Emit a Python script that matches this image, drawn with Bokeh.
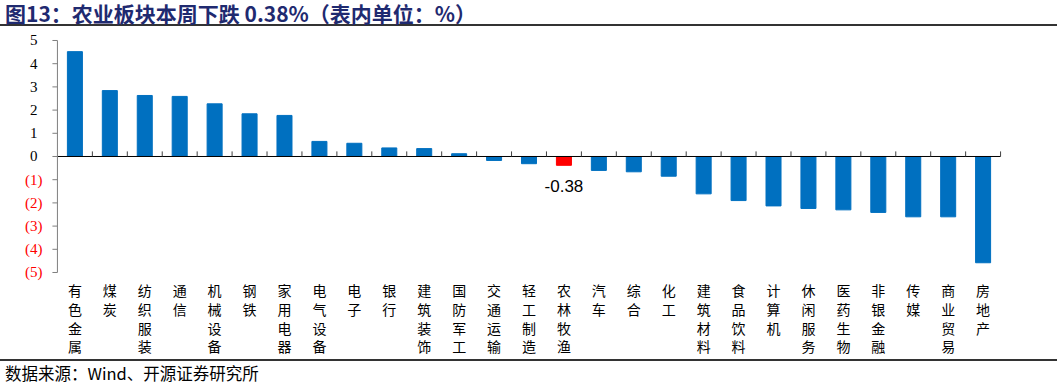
from bokeh.plotting import figure
from bokeh.models import Div, ColumnDataSource, FactorRange, Range1d
from bokeh.layouts import column
from bokeh.core.properties import value
from bokeh.embed import file_html
from bokeh.resources import INLINE

# ---- data ----
categories = ["有色金属", "煤炭", "纺织服装", "通信", "机械设备", "钢铁", "家用电器",
              "电气设备", "电子", "银行", "建筑装饰", "国防军工", "交通运输", "轻工制造",
              "农林牧渔", "汽车", "综合", "化工", "建筑材料", "食品饮料", "计算机",
              "休闲服务", "医药生物", "非银金融", "传媒", "商业贸易", "房地产"]
values = [4.52, 2.84, 2.63, 2.59, 2.27, 1.84, 1.77,
          0.65, 0.57, 0.37, 0.34, 0.12, -0.17, -0.31,
          -0.38, -0.60, -0.66, -0.85, -1.61, -1.90, -2.13,
          -2.24, -2.30, -2.41, -2.60, -2.60, -4.58]
highlight = "农林牧渔"
y_ticks = [-5, -4, -3, -2, -1, 0, 1, 2, 3, 4, 5]
title_text = "图13：农业板块本周下跌 0.38%（表内单位：%）"
source_text = "数据来源：Wind、开源证券研究所"

BLUE = "#0070C0"
RED = "#FF0000"
AXIS = "#7f7f7f"

n = len(categories)
ymin, ymax = min(y_ticks), max(y_ticks)

# frame covers the whole figure; the y-axis and category labels are drawn in data space
p = figure(x_range=FactorRange(*categories, range_padding=1.63, range_padding_units="absolute"),
           y_range=Range1d(-8.75, 5.517),
           width=1057, height=331, output_backend="svg", toolbar_location=None,
           x_axis_location=None, y_axis_location=None,
           min_border=0, min_border_left=0, min_border_right=0,
           min_border_top=0, min_border_bottom=0)
p.outline_line_color = None
p.xgrid.grid_line_color = None
p.ygrid.grid_line_color = None

colors = [RED if c == highlight else BLUE for c in categories]
src = ColumnDataSource(dict(x=categories, top=values, color=colors))
p.vbar(x="x", top="top", width=0.43, color="color", source=src)

# zero line with category boundary ticks (synthetic coords: band i spans i..i+1)
p.segment(x0=[0], x1=[n], y0=[0], y1=[0], line_color="black", line_width=1)
bnd = [i + 1 for i in range(n)]
p.segment(x0=bnd, x1=bnd, y0=[0] * n, y1=[0.22] * n, line_color="#404040", line_width=1)

# y axis: line, outward ticks, labels (negatives red in parentheses)
tick_len = 5 / 34.93
p.segment(x0=[0], x1=[0], y0=[ymin], y1=[ymax], line_color=AXIS, line_width=1)
p.segment(x0=[-tick_len] * len(y_ticks), x1=[0] * len(y_ticks), y0=y_ticks, y1=y_ticks,
          line_color=AXIS, line_width=1)
pos = [t for t in y_ticks if t >= 0]
neg = [t for t in y_ticks if t < 0]
p.text(x=[0] * len(pos), y=pos, text=[str(t) for t in pos], x_offset=-20,
       text_align="right", text_baseline="middle",
       text_font=value("Liberation Serif"), text_font_size="15px", text_color="black")
p.text(x=[0] * len(neg), y=neg, text=["(%d)" % abs(t) for t in neg], x_offset=-15,
       text_align="right", text_baseline="middle",
       text_font=value("Liberation Serif"), text_font_size="15px", text_color=RED)

# category labels, one character per line
p.text(x=categories, y=[ymin] * n, text=["\n".join(c) for c in categories], y_offset=8,
       text_align="center", text_baseline="top", text_line_height=0.93,
       text_font=value("Noto Sans CJK SC"), text_font_size="14px", text_color="black")

# value label for highlighted bar
hi = categories.index(highlight)
p.text(x=[highlight], y=[values[hi]], text=["%.2f" % values[hi]],
       text_align="center", text_baseline="top", y_offset=15,
       text_font=value("Liberation Sans"), text_font_size="17px", text_color="black")

title = Div(text='<div style="width:1057px;height:26px;line-height:26px;white-space:nowrap;'
                 'border-bottom:2px solid #333333;font-family:\'Noto Sans CJK SC\';font-weight:bold;'
                 'font-size:21px;color:#1F2A70;padding-left:5px;box-sizing:border-box;">'
                 + title_text + '</div>',
            width=1057, height=28, margin=0)
source = Div(text='<div style="width:1057px;border-top:2px solid #333333;padding-top:3px;'
                  'line-height:18px;white-space:nowrap;font-family:\'Noto Sans CJK SC\';'
                  'font-size:16.5px;color:#000;padding-left:5px;">' + source_text + '</div>',
             width=1057, height=26, margin=0)

layout = column(title, p, source, spacing=0)
open("out.html", "w").write(file_html(layout, INLINE))
